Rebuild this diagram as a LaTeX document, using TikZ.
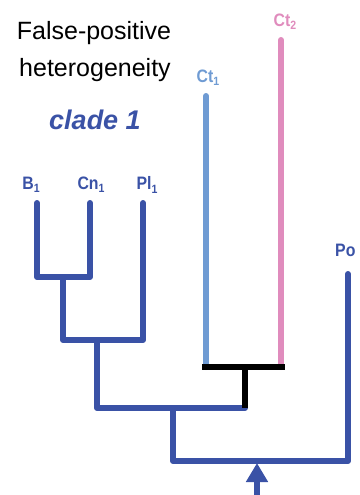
\documentclass[tikz,border=0pt]{standalone}
\usepackage{fontspec}
\setmainfont{Liberation Sans}
\usetikzlibrary{arrows.meta}
\definecolor{dblue}{HTML}{3A52A6}
\definecolor{lblue}{HTML}{6F9BD3}
\definecolor{pinkc}{HTML}{E08CBD}
\newcommand{\tx}[2]{\scalebox{0.88}[1]{#1\raisebox{-0.35ex}{\fontsize{12}{14}\selectfont #2}}}
\begin{document}
\begin{tikzpicture}[x=1pt,y=-1pt,
  branch/.style={line width=6pt, line join=round, line cap=round},
  taxon/.style={font=\bfseries\fontsize{18}{20}\selectfont, inner sep=0pt},
  title/.style={font=\fontsize{25}{28}\selectfont, inner sep=0pt, align=center}]
\useasboundingbox (0,0) rectangle (359,495);
% titles
\node[title] (t1) at (94,33) {False-positive};
\node[title] (t2) at (95,70) {heterogeneity};
\node[inner sep=0pt, text=dblue, font=\bfseries\itshape\fontsize{27}{30}\selectfont] (cl) at (95,120) {clade 1};
% taxon labels
\node[taxon, text=dblue] (lB) at (31,185) {\tx{B}{1}};
\node[taxon, text=dblue] (lCn) at (91,185) {\tx{Cn}{1}};
\node[taxon, text=dblue] (lPl) at (147,185) {\tx{Pl}{1}};
\node[taxon, text=lblue] (lCt1) at (208,78) {\tx{Ct}{1}};
\node[taxon, text=pinkc] (lCt2) at (285,22) {\tx{Ct}{2}};
\node[taxon, text=dblue, anchor=west] (lPo) at (335,252) {\tx{Po}{}};
% coordinates
\coordinate (B) at (37,203);
\coordinate (Cn) at (90,203);
\coordinate (Pl) at (143,203);
\coordinate (Ct1) at (206,96);
\coordinate (Ct2) at (281,40);
\coordinate (Po) at (348,274);
\coordinate (j1) at (63,277);
\coordinate (j2) at (97,340);
\coordinate (j3) at (173,408);
\coordinate (tL) at (202,367);
\coordinate (tR) at (285,367);
\coordinate (tM) at (245,367);
\coordinate (root) at (260,461);
\coordinate (arrS) at (257,495);
% tree
\draw[branch, dblue] (B) |- (j1) -| (Cn);
\draw[branch, dblue] (j1) |- (j2) -| (Pl);
\draw[branch, dblue] (j2) |- (j3) -| (tM);
\draw[branch, dblue] (j3) |- (root) -| (Po);
\draw[line width=6pt, lblue, line cap=round] (Ct1) -- (Ct1 |- tL);
\draw[line width=6pt, pinkc, line cap=round] (Ct2) -- (Ct2 |- tL);
\draw[line width=6pt, black] (tL) -- (tR);
\draw[line width=6pt, black] (tM) -- (tM |- j3);
% arrow
\draw[line width=6.5pt, dblue, -{Triangle[width=21pt,length=19pt]}] (arrS) -- (257,463);
\end{tikzpicture}
\end{document}
